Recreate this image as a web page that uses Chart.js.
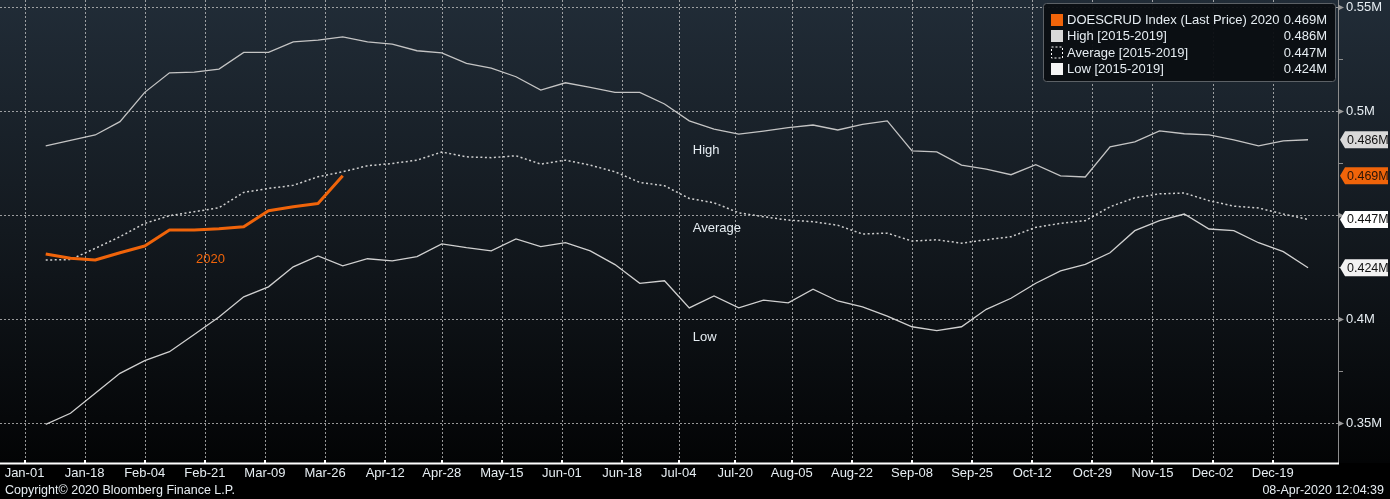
<!DOCTYPE html>
<html><head><meta charset="utf-8">
<script src="https://cdn.jsdelivr.net/npm/chart.js@4.4.1/dist/chart.umd.min.js"></script>
<style>html,body{margin:0;padding:0;background:#000;overflow:hidden}canvas{display:block}</style>
</head><body><canvas id="c" width="1390" height="499"></canvas>
<script>
// ---- data ----
const tickLabels = ['Jan-01','Jan-18','Feb-04','Feb-21','Mar-09','Mar-26','Apr-12','Apr-28','May-15','Jun-01','Jun-18','Jul-04','Jul-20','Aug-05','Aug-22','Sep-08','Sep-25','Oct-12','Oct-29','Nov-15','Dec-02','Dec-19'];
const tickDays = [0,17,34,51,68,85,102,118,135,152,169,185,201,217,234,251,268,285,302,319,336,353];
const firstWeekDay = 6; // weekly observations, day-of-year of first week
const series2020 = [0.4313,0.4292,0.4284,0.4319,0.4351,0.4428,0.4428,0.4434,0.4444,0.4521,0.4540,0.4556,0.4689];
const highValues = [0.4833,0.4859,0.4885,0.4949,0.5090,0.5184,0.5187,0.5202,0.5282,0.5282,0.5333,0.5341,0.5357,0.5333,0.5322,0.5290,0.5280,0.5229,0.5207,0.5165,0.5101,0.5136,0.5114,0.5090,0.5090,0.5034,0.4953,0.4913,0.4889,0.4904,0.4920,0.4933,0.4909,0.4936,0.4953,0.4809,0.4804,0.4740,0.4721,0.4694,0.4742,0.4688,0.4683,0.4828,0.4852,0.4905,0.4891,0.4886,0.4862,0.4833,0.4857,0.4862];
const avgValues = [0.4284,0.4286,0.4340,0.4396,0.4460,0.4497,0.4516,0.4535,0.4609,0.4628,0.4643,0.4684,0.4708,0.4737,0.4748,0.4764,0.4803,0.4780,0.4776,0.4785,0.4745,0.4764,0.4740,0.4708,0.4657,0.4641,0.4580,0.4559,0.4511,0.4492,0.4476,0.4468,0.4451,0.4409,0.4413,0.4375,0.4381,0.4365,0.4381,0.4396,0.4441,0.4460,0.4473,0.4540,0.4583,0.4602,0.4606,0.4569,0.4543,0.4534,0.4505,0.4479];
const lowValues = [0.3494,0.3547,0.3643,0.3739,0.3800,0.3843,0.3926,0.4010,0.4107,0.4155,0.4251,0.4304,0.4256,0.4290,0.4280,0.4300,0.4361,0.4343,0.4328,0.4385,0.4348,0.4367,0.4328,0.4262,0.4172,0.4184,0.4054,0.4111,0.4054,0.4091,0.4078,0.4144,0.4087,0.4059,0.4014,0.3963,0.3944,0.3963,0.4047,0.4100,0.4172,0.4232,0.4263,0.4319,0.4425,0.4473,0.4505,0.4433,0.4425,0.4367,0.4324,0.4247];
const yTickValues = [0.35,0.4,0.45,0.5,0.55];
const yMinorValues = [0.375,0.425,0.475,0.525];
const legendNames = ['DOESCRUD Index (Last Price) 2020','High [2015-2019]','Average [2015-2019]','Low [2015-2019]'];
const legendValues = ['0.469M','0.486M','0.447M','0.424M'];

const FONT = '"Liberation Sans", Arial, sans-serif';
const TXT = '#e6edf2';
const ORANGE = '#f0640a';
const toPts = vals => vals.map((v,i)=>({x: firstWeekDay + 7*i, y: v}));

const bgPlugin = {
  id:'bg',
  beforeDraw(chart){
    const ctx = chart.ctx, a = chart.chartArea;
    ctx.save();
    ctx.fillStyle = '#000';
    ctx.fillRect(0,0,chart.width,chart.height);
    const g = ctx.createLinearGradient(0,0,0,a.bottom);
    g.addColorStop(0,'#212c37');
    g.addColorStop(0.5,'#13191f');
    g.addColorStop(1,'#030405');
    ctx.fillStyle = g;
    ctx.fillRect(0,0,chart.width,a.bottom);
    ctx.restore();
  },
  beforeDatasetsDraw(chart){
    const ctx = chart.ctx, a = chart.chartArea;
    const xs = chart.scales.x, ys = chart.scales.y;
    ctx.save();
    ctx.strokeStyle = 'rgba(200,200,200,0.75)';
    ctx.lineWidth = 1;
    ctx.setLineDash([2,2]);
    tickDays.forEach(d=>{
      const x = Math.round(xs.getPixelForValue(d))+0.5;
      ctx.beginPath(); ctx.moveTo(x,a.top); ctx.lineTo(x,a.bottom); ctx.stroke();
    });
    yTickValues.forEach(v=>{
      const y = Math.round(ys.getPixelForValue(v))+0.5;
      ctx.beginPath(); ctx.moveTo(a.left,y); ctx.lineTo(a.right,y); ctx.stroke();
    });
    ctx.setLineDash([]);
    // right axis line
    ctx.strokeStyle = '#8c8c8c';
    ctx.beginPath(); ctx.moveTo(a.right+0.5,0); ctx.lineTo(a.right+0.5,a.bottom); ctx.stroke();
    yMinorValues.forEach(v=>{
      const y = Math.round(ys.getPixelForValue(v))+0.5;
      ctx.beginPath(); ctx.moveTo(a.right,y); ctx.lineTo(a.right+5,y); ctx.stroke();
    });
    ctx.fillStyle = '#9a9a9a';
    yTickValues.forEach(v=>{
      const y = Math.round(ys.getPixelForValue(v))+0.5;
      ctx.beginPath(); ctx.moveTo(a.right,y-3); ctx.lineTo(a.right+6,y); ctx.lineTo(a.right,y+3); ctx.closePath(); ctx.fill();
    });
    // bottom axis line
    ctx.fillStyle = '#ffffff';
    ctx.fillRect(0,a.bottom-0.5,a.right+1,2);
    tickDays.forEach(d=>{
      const x = Math.round(xs.getPixelForValue(d));
      ctx.fillRect(x-1,a.bottom-3,2,3);
    });
    ctx.restore();
  },
  afterDraw(chart){
    const ctx = chart.ctx, a = chart.chartArea;
    const xs = chart.scales.x, ys = chart.scales.y;
    ctx.save();
    // annotations
    ctx.font = '13px ' + FONT;
    ctx.textBaseline = 'middle';
    ctx.textAlign = 'left';
    ctx.fillStyle = TXT;
    ctx.fillText('High', xs.getPixelForValue(189), ys.getPixelForValue(0.4812));
    ctx.fillText('Average', xs.getPixelForValue(189), ys.getPixelForValue(0.4435));
    ctx.fillText('Low', xs.getPixelForValue(189), ys.getPixelForValue(0.3911));
    ctx.fillStyle = ORANGE;
    ctx.fillText('2020', xs.getPixelForValue(48.5), ys.getPixelForValue(0.4288));

    // last-value badges
    const badges = [
      {v: highValues[highValues.length-1], bg:'#d9d9d9', fg:'#111', t:legendValues[1]},
      {v: series2020[series2020.length-1], bg:ORANGE, fg:'#2a1508', t:legendValues[0]},
      {v: avgValues[avgValues.length-1], bg:'#ffffff', fg:'#111', t:legendValues[2]},
      {v: lowValues[lowValues.length-1], bg:'#f2f2f2', fg:'#111', t:legendValues[3]},
    ];
    ctx.font = '12.5px ' + FONT;
    badges.forEach(b=>{
      const y = ys.getPixelForValue(b.v);
      const x0 = a.right + 2;
      ctx.fillStyle = b.bg;
      ctx.beginPath();
      ctx.moveTo(x0,y); ctx.lineTo(x0+5,y-8.5); ctx.lineTo(1388,y-8.5);
      ctx.lineTo(1388,y+8.5); ctx.lineTo(x0+5,y+8.5); ctx.closePath(); ctx.fill();
      ctx.fillStyle = b.fg;
      ctx.textAlign = 'left';
      ctx.fillText(b.t, x0+7, y+0.5);
    });

    // legend
    const lx = 1043.5, ly = 3.5, lw = 292, lh = 78;
    ctx.fillStyle = 'rgba(11,14,18,0.95)';
    ctx.strokeStyle = '#5c6166';
    ctx.lineWidth = 1;
    ctx.beginPath();
    if (ctx.roundRect) ctx.roundRect(lx,ly,lw,lh,3); else ctx.rect(lx,ly,lw,lh);
    ctx.fill(); ctx.stroke();
    const rows = [20, 36, 52.5, 69];
    const sw = ['#f0640a','#d9d9d9',null,'#f5f5f5'];
    ctx.font = '13px ' + FONT;
    rows.forEach((ry,i)=>{
      if (sw[i]) { ctx.fillStyle = sw[i]; ctx.fillRect(1051,ry-6,12,12); }
      else {
        ctx.strokeStyle = '#ffffff'; ctx.setLineDash([2,2]);
        ctx.strokeRect(1051.5,ry-5.5,11,11); ctx.setLineDash([]);
      }
      ctx.fillStyle = TXT;
      ctx.textAlign = 'left';
      ctx.fillText(legendNames[i], 1067, ry+0.5);
      ctx.textAlign = 'right';
      ctx.fillText(legendValues[i], 1327, ry+0.5);
    });

    // footer
    ctx.font = '12.5px ' + FONT;
    ctx.fillStyle = TXT;
    ctx.textAlign = 'left';
    ctx.fillText('Copyright\u00A9 2020 Bloomberg Finance L.P.', 5, 491);
    ctx.textAlign = 'right';
    ctx.fillText('08-Apr-2020 12:04:39', 1384, 491);
    ctx.restore();
  }
};

new Chart(document.getElementById('c'), {
  type: 'line',
  data: {
    datasets: [
      {label: legendNames[0], data: toPts(series2020), borderColor: ORANGE, borderWidth: 3, pointRadius: 0, tension: 0, borderJoinStyle:'round'},
      {label: legendNames[1], data: toPts(highValues), borderColor: '#c4c4c4', borderWidth: 1.3, pointRadius: 0, tension: 0},
      {label: legendNames[2], data: toPts(avgValues), borderColor: '#d0d0d0', borderWidth: 1.5, borderDash: [2,2.5], pointRadius: 0, tension: 0},
      {label: legendNames[3], data: toPts(lowValues), borderColor: '#d0d0d0', borderWidth: 1.3, pointRadius: 0, tension: 0},
    ]
  },
  options: {
    responsive: false,
    animation: false,
    layout: {padding: 0},
    plugins: {legend: {display: false}, tooltip: {enabled: false}},
    scales: {
      x: {
        type: 'linear', position: 'bottom',
        min: -6.93, max: 371.47,
        afterBuildTicks: s => { s.ticks = tickDays.map(v=>({value:v})); },
        ticks: {
          callback: v => tickLabels[tickDays.indexOf(v)] || '',
          color: TXT, font: {family: FONT, size: 13}, padding: 3,
          maxRotation: 0, autoSkip: false
        },
        grid: {display: false, drawTicks: false},
        border: {display: false},
        afterFit: s => { s.height = 36; s.paddingLeft = 0; s.paddingRight = 0; }
      },
      y: {
        type: 'linear', position: 'right',
        min: 0.3308, max: 0.5534,
        afterBuildTicks: s => { s.ticks = yTickValues.map(v=>({value:v})); },
        ticks: {
          callback: v => (Math.abs(v-0.45) < 1e-9) ? '' : (+v.toFixed(3)) + 'M',
          color: TXT, font: {family: FONT, size: 13}, padding: 8
        },
        grid: {display: false, drawTicks: false},
        border: {display: false},
        afterFit: s => { s.width = 52; s.paddingTop = 0; s.paddingBottom = 0; }
      }
    }
  },
  plugins: [bgPlugin]
});
</script>
</body></html>
